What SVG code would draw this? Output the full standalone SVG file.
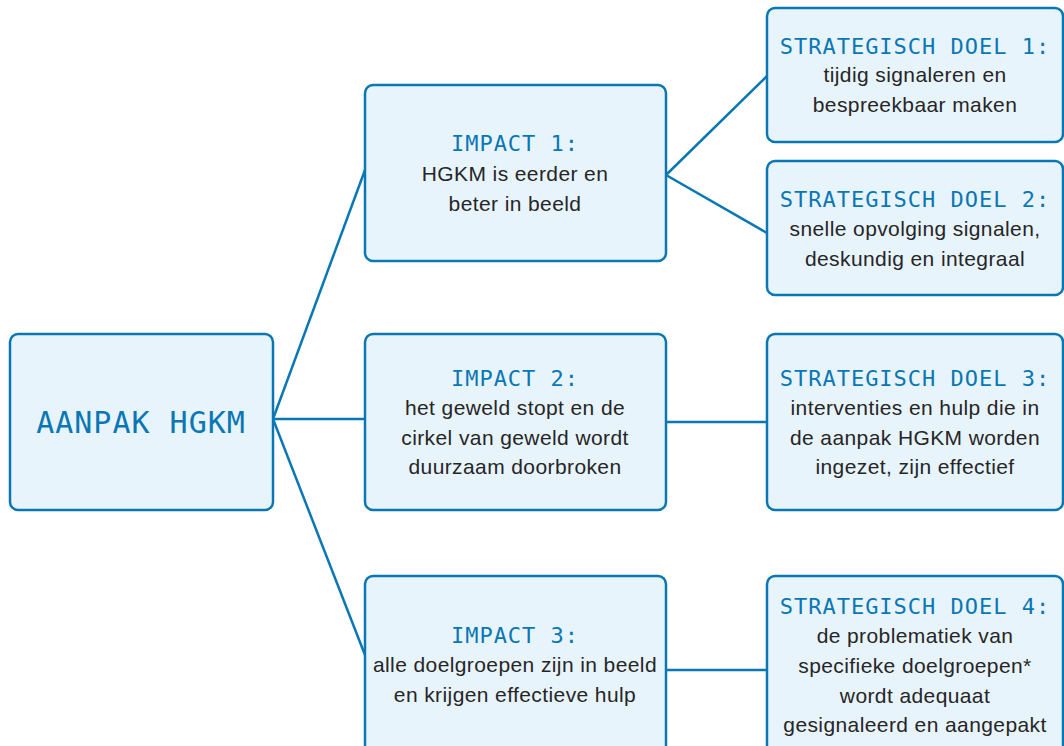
<svg xmlns="http://www.w3.org/2000/svg" width="1064" height="746" viewBox="0 0 1064 746">
<style>
.box{fill:#e8f4fc;stroke:#0a77b5;stroke-width:2.5}
.ttl{font-family:"DejaVu Sans Mono","Liberation Mono",monospace;font-size:22px;fill:#0a77b5;text-anchor:middle;letter-spacing:1px}
.big{font-family:"DejaVu Sans Mono","Liberation Mono",monospace;font-size:30px;fill:#0a77b5;text-anchor:middle;letter-spacing:1px}
.txt{font-family:"Liberation Sans",Arial,sans-serif;font-size:21px;fill:#262626;text-anchor:middle;letter-spacing:0.4px}
.con{stroke:#0a77b5;stroke-width:2.5;fill:none}
</style>
<rect width="1064" height="746" fill="#ffffff"/>
<g id="connectors">
<line class="con" x1="273" y1="419" x2="365" y2="170"/>
<line class="con" x1="273" y1="419" x2="365" y2="419"/>
<line class="con" x1="273" y1="419" x2="365" y2="655"/>
<line class="con" x1="666" y1="175" x2="767" y2="76"/>
<line class="con" x1="666" y1="175" x2="767" y2="233"/>
<line class="con" x1="666" y1="422" x2="767" y2="422"/>
<line class="con" x1="666" y1="670" x2="767" y2="670"/>
</g>
<g id="root">
<rect class="box" x="10" y="334" width="263" height="176" rx="8"/>
<text class="big" x="141" y="433">AANPAK HGKM</text>
</g>
<g id="impact1">
<rect class="box" x="365" y="85" width="301" height="176" rx="8"/>
<text class="ttl" x="515" y="151">IMPACT 1:</text>
<text class="txt" x="515" y="181">HGKM is eerder en</text>
<text class="txt" x="515" y="211">beter in beeld</text>
</g>
<g id="impact2">
<rect class="box" x="365" y="334" width="301" height="176" rx="8"/>
<text class="ttl" x="515" y="386">IMPACT 2:</text>
<text class="txt" x="515" y="415">het geweld stopt en de</text>
<text class="txt" x="515" y="445">cirkel van geweld wordt</text>
<text class="txt" x="515" y="474">duurzaam doorbroken</text>
</g>
<g id="impact3">
<rect class="box" x="365" y="576" width="301" height="180" rx="8"/>
<text class="ttl" x="515" y="643">IMPACT 3:</text>
<text class="txt" x="515" y="672">alle doelgroepen zijn in beeld</text>
<text class="txt" x="515" y="702">en krijgen effectieve hulp</text>
</g>
<g id="doel1">
<rect class="box" x="767" y="8" width="296" height="134" rx="8"/>
<text class="ttl" x="915" y="54">STRATEGISCH DOEL 1:</text>
<text class="txt" x="915" y="82">tijdig signaleren en</text>
<text class="txt" x="915" y="112">bespreekbaar maken</text>
</g>
<g id="doel2">
<rect class="box" x="767" y="161" width="296" height="134" rx="8"/>
<text class="ttl" x="915" y="207">STRATEGISCH DOEL 2:</text>
<text class="txt" x="915" y="236">snelle opvolging signalen,</text>
<text class="txt" x="915" y="266">deskundig en integraal</text>
</g>
<g id="doel3">
<rect class="box" x="767" y="334" width="296" height="176" rx="8"/>
<text class="ttl" x="915" y="386">STRATEGISCH DOEL 3:</text>
<text class="txt" x="915" y="415">interventies en hulp die in</text>
<text class="txt" x="915" y="445">de aanpak HGKM worden</text>
<text class="txt" x="915" y="474">ingezet, zijn effectief</text>
</g>
<g id="doel4">
<rect class="box" x="767" y="576" width="296" height="180" rx="8"/>
<text class="ttl" x="915" y="614">STRATEGISCH DOEL 4:</text>
<text class="txt" x="915" y="643">de problematiek van</text>
<text class="txt" x="915" y="673">specifieke doelgroepen*</text>
<text class="txt" x="915" y="703">wordt adequaat</text>
<text class="txt" x="915" y="732">gesignaleerd en aangepakt</text>
</g>
</svg>
